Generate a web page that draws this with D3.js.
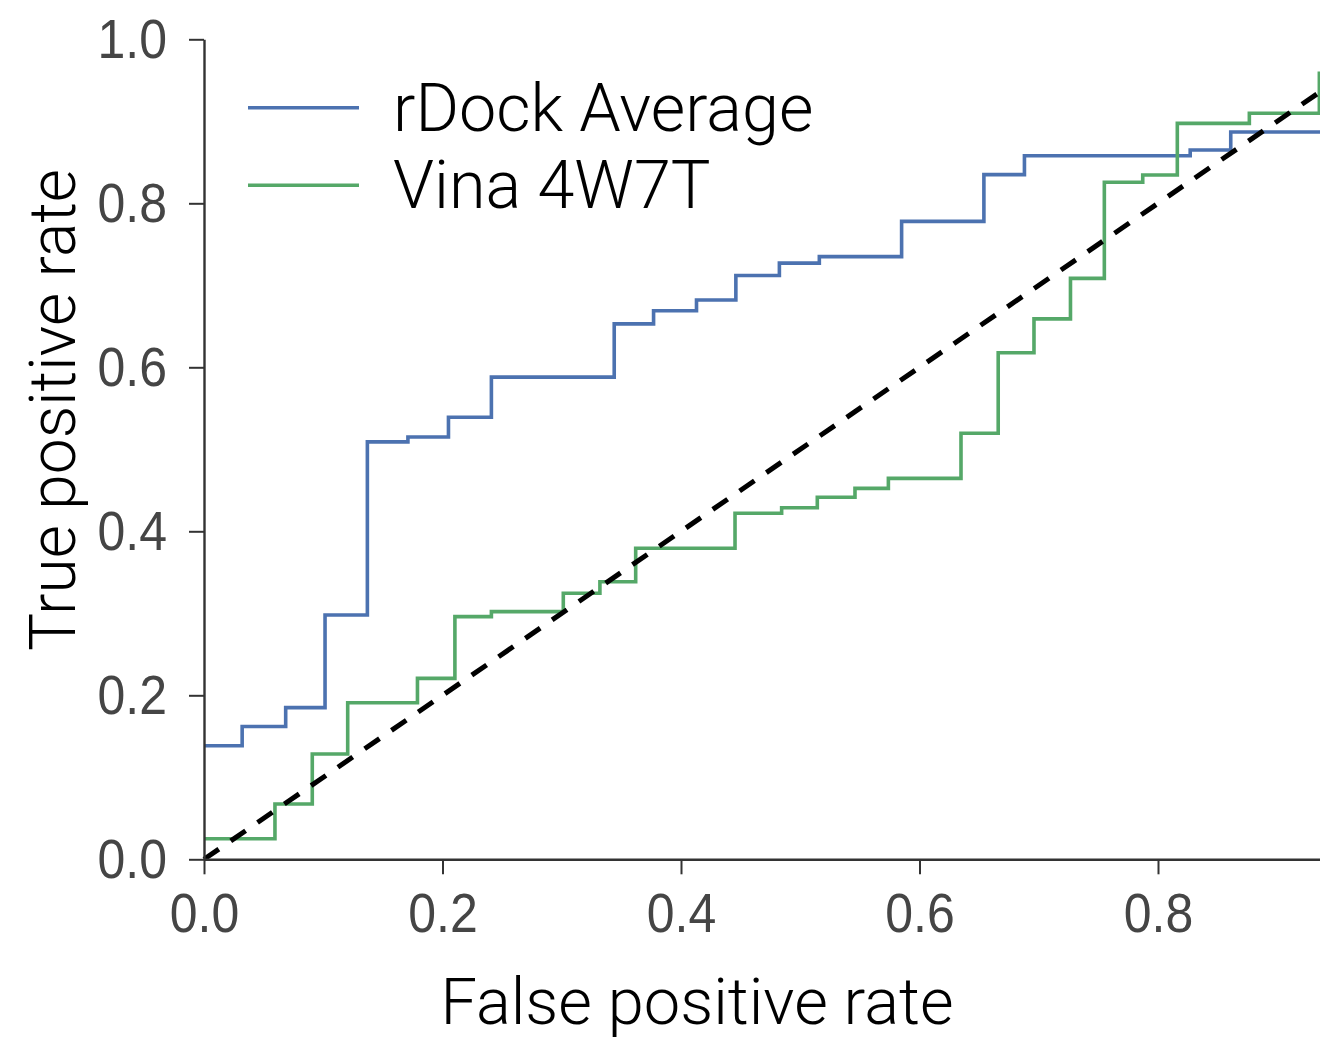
<!DOCTYPE html>
<html>
<head>
<meta charset="utf-8">
<script src="https://cdn.jsdelivr.net/npm/d3@7"></script>
<style>
  html, body { margin: 0; padding: 0; background: #fff; }
  svg { display: block; }
  .stretch { transform-box: fill-box; transform-origin: center; transform: scaleY(1.1); }
</style>
</head>
<body>
<svg id="chart" width="1320" height="1039"></svg>
<script>
// ROC curves: step points (false positive rate, true positive rate)
const rdockFpr = [0, 0.032, 0.0685, 0.1015, 0.137, 0.171, 0.205, 0.241, 0.344, 0.377, 0.413, 0.446, 0.4825, 0.516, 0.585, 0.654, 0.688, 0.827, 0.861, 0.94];
const rdockTpr = [0.1385, 0.162, 0.185, 0.298, 0.509, 0.515, 0.539, 0.588, 0.653, 0.669, 0.682, 0.712, 0.727, 0.735, 0.778, 0.835, 0.858, 0.865, 0.887, 0.887];

const vinaFpr = [0, 0.0595, 0.0908, 0.1205, 0.179, 0.2104, 0.241, 0.3013, 0.332, 0.362, 0.4453, 0.4844, 0.5143, 0.5459, 0.5739, 0.6348, 0.666, 0.696, 0.7266, 0.755, 0.7872, 0.8162, 0.8766, 0.9353];
const vinaTpr = [0.0251, 0.0674, 0.1284, 0.191, 0.2207, 0.2959, 0.302, 0.3244, 0.3385, 0.3793, 0.422, 0.4288, 0.4415, 0.4524, 0.4646, 0.5195, 0.6178, 0.659, 0.7085, 0.8256, 0.8345, 0.8975, 0.9098, 0.9606];

// chance line
const chanceLine = [0, 1];

const seriesNames = ["rDock Average", "Vina 4W7T"];
const seriesColors = ["#4C72B0", "#55A868"];

const xTicks = [0.0, 0.2, 0.4, 0.6, 0.8];
const yTicks = [0.0, 0.2, 0.4, 0.6, 0.8, 1.0];

const svg = d3.select("#chart");
const tickFont = "'Liberation Sans', Arial, Helvetica, sans-serif";
const titleFont = "Roboto, 'Liberation Sans', Arial, sans-serif";

const x = d3.scaleLinear().domain([0, 1]).range([204, 1396.5]);
const y = d3.scaleLinear().domain([0, 1]).range([859.3, 39.3]);

const series = [
  { name: seriesNames[0], color: seriesColors[0], pts: rdockFpr.map((f, i) => [f, rdockTpr[i]]) },
  { name: seriesNames[1], color: seriesColors[1], pts: vinaFpr.map((f, i) => [f, vinaTpr[i]]) }
];

const stepLine = d3.line()
  .x(d => x(d[0]))
  .y(d => y(d[1]))
  .curve(d3.curveStepAfter);

series.forEach(s => {
  svg.append("path")
    .attr("d", stepLine(s.pts))
    .attr("fill", "none")
    .attr("stroke", s.color)
    .attr("stroke-width", 3.6)
    .attr("stroke-linejoin", "miter");
});

// diagonal reference line
svg.append("path")
  .attr("d", d3.line().x(d => x(d)).y(d => y(d))(chanceLine))
  .attr("fill", "none")
  .attr("stroke", "#000")
  .attr("stroke-width", 5)
  .attr("stroke-dasharray", "18,14.5");

// axes
const xAxis = d3.axisBottom(x).tickValues(xTicks).tickFormat(d3.format(".1f"))
  .tickSize(15).tickPadding(20).tickSizeOuter(0);
const yAxis = d3.axisLeft(y).tickValues(yTicks).tickFormat(d3.format(".1f"))
  .tickSize(15).tickPadding(22).tickSizeOuter(0);

const gx = svg.append("g").attr("transform", `translate(0,${y(0)})`).call(xAxis);
const gy = svg.append("g").attr("transform", `translate(${x(0)},0)`).call(yAxis);

[gx, gy].forEach(g => {
  g.select(".domain").attr("stroke", "#333").attr("stroke-width", 2.4);
  g.selectAll(".tick line").attr("stroke", "#333").attr("stroke-width", 2);
  g.selectAll(".tick text")
    .attr("fill", "#454545")
    .attr("font-family", tickFont)
    .attr("font-size", 50)
    .attr("class", "stretch");
});

// axis titles
svg.append("text")
  .attr("x", 697).attr("y", 1024)
  .attr("text-anchor", "middle")
  .attr("font-family", titleFont)
  .attr("font-weight", 300)
  .attr("font-size", 65)
  .attr("fill", "#000")
  .text("False positive rate");

svg.append("text")
  .attr("transform", "translate(75,410) rotate(-90)")
  .attr("text-anchor", "middle")
  .attr("font-family", titleFont)
  .attr("font-weight", 300)
  .attr("font-size", 64)
  .attr("fill", "#000")
  .text("True positive rate");

// legend
const legend = svg.append("g");
series.forEach((s, i) => {
  const ly = 107.7 + i * 77.5;
  legend.append("line")
    .attr("x1", 248).attr("x2", 359)
    .attr("y1", ly).attr("y2", ly)
    .attr("stroke", s.color)
    .attr("stroke-width", 3.6);
  legend.append("text")
    .attr("x", 393).attr("y", ly + 23)
    .attr("font-family", titleFont)
    .attr("font-weight", 300)
    .attr("font-size", 66.5)
    .attr("fill", "#000")
    .text(s.name);
});
</script>
</body>
</html>
